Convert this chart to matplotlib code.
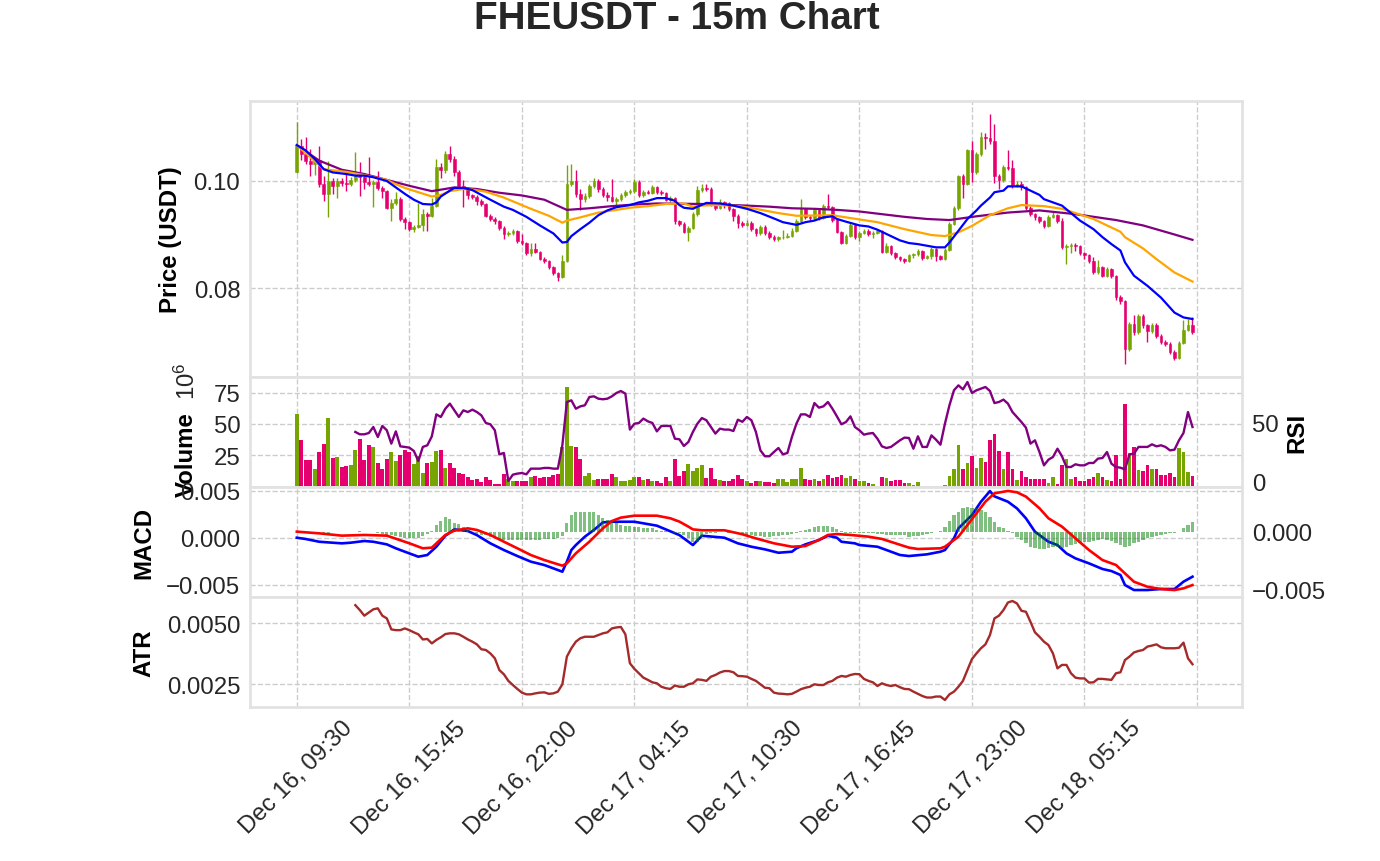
import matplotlib
matplotlib.use("Agg")
import matplotlib.pyplot as plt
import numpy as np

plt.rcParams['font.family'] = ['Liberation Sans', 'DejaVu Sans']

# ---- data (15m candles, index 0 = Dec 16 09:30) ----
first_open = 0.1017
close = [
    0.1066, 0.1050, 0.1038, 0.1032, 0.1040, 0.0995, 0.0975, 0.1000, 0.0990, 0.1000,
    0.0996, 0.0994, 0.1001, 0.1012, 0.1008, 0.0999, 0.0995, 0.0999, 0.0987, 0.0982,
    0.0950, 0.0958, 0.0966, 0.0929, 0.0923, 0.0910, 0.0914, 0.0918, 0.0938, 0.0935,
    0.0954, 0.1027, 0.1020, 0.1050, 0.1042, 0.1017, 0.0991, 0.0985, 0.0973, 0.0970,
    0.0963, 0.0957, 0.0935, 0.0929, 0.0926, 0.0913, 0.0900, 0.0903, 0.0906, 0.0888,
    0.0884, 0.0866, 0.0872, 0.0868, 0.0855, 0.0850, 0.0840, 0.0828, 0.0821, 0.0851,
    0.0994, 0.1000, 0.0976, 0.0966, 0.0972, 0.0991, 0.1000, 0.0985, 0.0973, 0.0970,
    0.0963, 0.0966, 0.0973, 0.0979, 0.0981, 0.0999, 0.0973, 0.0979, 0.0978, 0.0988,
    0.0979, 0.0977, 0.0965, 0.0968, 0.0925, 0.0920, 0.0905, 0.0913, 0.0938, 0.0984,
    0.0987, 0.0985, 0.0957, 0.0950, 0.0960, 0.0958, 0.0948, 0.0935, 0.0922, 0.0918,
    0.0922, 0.0910, 0.0902, 0.0914, 0.0903, 0.0896, 0.0892, 0.0895, 0.0896, 0.0898,
    0.0907, 0.0925, 0.0947, 0.0932, 0.0930, 0.0945, 0.0931, 0.0953, 0.0951, 0.0927,
    0.0905, 0.0885, 0.0897, 0.0918, 0.0895, 0.0903, 0.0907, 0.0901, 0.0903, 0.0907,
    0.0868, 0.0878, 0.0865, 0.0858, 0.0854, 0.0850, 0.0861, 0.0863, 0.0869, 0.0856,
    0.0859, 0.0873, 0.0859, 0.0855, 0.0871, 0.0920, 0.0949, 0.1010, 0.0995, 0.1057,
    0.1016, 0.1050, 0.1082, 0.1080, 0.1074, 0.1010, 0.1001, 0.1026, 0.1024, 0.0991,
    0.0994, 0.0988, 0.0950, 0.0938, 0.0932, 0.0925, 0.0916, 0.0932, 0.0937, 0.0926,
    0.0876, 0.0879, 0.0880, 0.0878, 0.0865, 0.0862, 0.0850, 0.0829, 0.0839, 0.0823,
    0.0836, 0.0823, 0.0783, 0.0776, 0.0686, 0.0732, 0.0717, 0.0748, 0.0730, 0.0720,
    0.0731, 0.0711, 0.0700, 0.0696, 0.0681, 0.0670, 0.0698, 0.0722, 0.0730, 0.0718,
]
high = [
    0.1111, 0.1078, 0.1082, 0.1060, 0.1044, 0.1066, 0.1010, 0.1038, 0.1006, 0.1005,
    0.1005, 0.1018, 0.1007, 0.1055, 0.1036, 0.1012, 0.1045, 0.1002, 0.1019, 0.0990,
    0.0984, 0.0966, 0.0979, 0.0971, 0.0933, 0.0926, 0.0917, 0.0958, 0.0948, 0.0942,
    0.0969, 0.1041, 0.1034, 0.1056, 0.1065, 0.1046, 0.1020, 0.1002, 0.0988, 0.0976,
    0.0973, 0.0966, 0.0959, 0.0938, 0.0932, 0.0928, 0.0915, 0.0906, 0.0910, 0.0908,
    0.0900, 0.0886, 0.0885, 0.0885, 0.0870, 0.0858, 0.0853, 0.0842, 0.0830, 0.0862,
    0.1030, 0.1032, 0.1021, 0.0985, 0.0978, 0.0995, 0.1006, 0.1003, 0.0988, 0.0979,
    0.1003, 0.0970, 0.0977, 0.0983, 0.0985, 0.1004, 0.1001, 0.0983, 0.0983, 0.0993,
    0.0991, 0.0984, 0.0979, 0.0972, 0.0970, 0.0927, 0.0923, 0.0916, 0.0942, 0.0990,
    0.0995, 0.0995, 0.0988, 0.0960, 0.0966, 0.0963, 0.0961, 0.0950, 0.0938, 0.0925,
    0.0928, 0.0925, 0.0913, 0.0918, 0.0917, 0.0906, 0.0899, 0.0898, 0.0908, 0.0903,
    0.0912, 0.0929, 0.0966, 0.0950, 0.0936, 0.0949, 0.0948, 0.0957, 0.0975, 0.0954,
    0.0929, 0.0907, 0.0900, 0.0922, 0.0920, 0.0907, 0.0910, 0.0911, 0.0906, 0.0910,
    0.0909, 0.0885, 0.0880, 0.0867, 0.0860, 0.0856, 0.0864, 0.0866, 0.0873, 0.0871,
    0.0862, 0.0876, 0.0875, 0.0861, 0.0874, 0.0924, 0.0953, 0.1012, 0.1013, 0.1060,
    0.1075, 0.1054, 0.1092, 0.1090, 0.1125, 0.1107, 0.1013, 0.1030, 0.1058, 0.1040,
    0.1000, 0.1000, 0.0990, 0.0953, 0.0941, 0.0935, 0.0928, 0.0936, 0.0944, 0.0939,
    0.0930, 0.0883, 0.0885, 0.0885, 0.0880, 0.0867, 0.0864, 0.0858, 0.0852, 0.0841,
    0.0840, 0.0838, 0.0825, 0.0786, 0.0778, 0.0736, 0.0750, 0.0752, 0.0751, 0.0733,
    0.0735, 0.0734, 0.0714, 0.0703, 0.0699, 0.0684, 0.0701, 0.0740, 0.0743, 0.0745,
]
low = [
    0.1015, 0.1040, 0.1032, 0.1010, 0.1012, 0.0988, 0.0963, 0.0932, 0.0976, 0.0968,
    0.0990, 0.0981, 0.0990, 0.0998, 0.0972, 0.0985, 0.0990, 0.0951, 0.0984, 0.0968,
    0.0948, 0.0926, 0.0955, 0.0926, 0.0911, 0.0907, 0.0904, 0.0912, 0.0907, 0.0907,
    0.0933, 0.0952, 0.1005, 0.1015, 0.1036, 0.1010, 0.0988, 0.0952, 0.0966, 0.0966,
    0.0955, 0.0954, 0.0932, 0.0925, 0.0920, 0.0909, 0.0892, 0.0897, 0.0899, 0.0884,
    0.0880, 0.0862, 0.0860, 0.0865, 0.0852, 0.0846, 0.0836, 0.0824, 0.0814, 0.0818,
    0.0848, 0.0990, 0.0970, 0.0945, 0.0960, 0.0968, 0.0986, 0.0980, 0.0970, 0.0962,
    0.0960, 0.0955, 0.0962, 0.0970, 0.0976, 0.0978, 0.0970, 0.0970, 0.0975, 0.0975,
    0.0976, 0.0974, 0.0962, 0.0960, 0.0920, 0.0915, 0.0902, 0.0888, 0.0910, 0.0935,
    0.0980, 0.0981, 0.0954, 0.0946, 0.0947, 0.0950, 0.0944, 0.0925, 0.0912, 0.0914,
    0.0915, 0.0906, 0.0898, 0.0899, 0.0899, 0.0892, 0.0887, 0.0888, 0.0892, 0.0893,
    0.0895, 0.0904, 0.0922, 0.0929, 0.0926, 0.0927, 0.0928, 0.0929, 0.0947, 0.0924,
    0.0902, 0.0882, 0.0883, 0.0895, 0.0891, 0.0888, 0.0900, 0.0898, 0.0893, 0.0900,
    0.0865, 0.0866, 0.0862, 0.0855, 0.0850, 0.0846, 0.0848, 0.0857, 0.0860, 0.0853,
    0.0854, 0.0855, 0.0850, 0.0852, 0.0853, 0.0869, 0.0917, 0.0945, 0.0969, 0.0992,
    0.0999, 0.1013, 0.1046, 0.1060, 0.1070, 0.0997, 0.0985, 0.0998, 0.1020, 0.0987,
    0.0988, 0.0984, 0.0946, 0.0935, 0.0928, 0.0921, 0.0912, 0.0914, 0.0930, 0.0922,
    0.0873, 0.0844, 0.0865, 0.0870, 0.0862, 0.0855, 0.0846, 0.0826, 0.0826, 0.0820,
    0.0820, 0.0819, 0.0777, 0.0770, 0.0658, 0.0683, 0.0712, 0.0714, 0.0726, 0.0700,
    0.0716, 0.0706, 0.0696, 0.0692, 0.0677, 0.0666, 0.0668, 0.0695, 0.0719, 0.0714,
]
# volume in units of 10^6
volume = [
    57.8, 37.5, 21.2, 21.2, 14.4, 27.4, 34.2, 54.6, 22.8, 23.9,
    16.0, 16.6, 17.1, 29.3, 38.3, 21.2, 33.4, 31.5, 18.7, 13.8,
    22.0, 27.4, 20.6, 25.2, 29.3, 27.4, 17.9, 24.2, 11.1, 18.7,
    19.8, 28.8, 29.3, 15.2, 18.7, 15.2, 11.1, 10.3, 7.9, 5.7,
    6.5, 3.5, 7.9, 5.7, 2.4, 2.4, 10.3, 6.2, 4.9, 4.3,
    4.3, 4.3, 7.6, 8.4, 7.1, 7.6, 7.6, 9.8, 10.3, 31.5,
    79.8, 32.8, 31.5, 22.0, 8.4, 11.1, 5.7, 6.5, 6.5, 6.2,
    10.3, 7.9, 4.3, 4.3, 5.7, 7.9, 7.9, 5.2, 6.2, 4.3,
    4.9, 3.0, 7.9, 4.9, 22.0, 9.0, 12.5, 17.9, 12.5, 14.7,
    17.1, 7.1, 15.2, 6.5, 5.7, 4.9, 4.9, 6.2, 9.8, 6.2,
    4.3, 3.0, 4.9, 4.9, 3.5, 3.5, 3.0, 6.5, 6.5, 3.5,
    6.5, 6.2, 15.2, 6.5, 5.7, 6.5, 4.3, 6.5, 9.8, 7.1,
    7.6, 9.2, 7.1, 9.0, 6.5, 4.9, 4.3, 3.0, 2.2, 0.8,
    7.9, 7.1, 4.9, 5.7, 5.7, 3.0, 3.0, 1.6, 3.8, 0.8,
    0.3, 0.8, 0.8, 0.3, 1.6, 9.0, 13.8, 33.4, 14.4, 18.7,
    24.7, 14.7, 23.3, 20.1, 36.9, 42.3, 28.8, 13.8, 28.0, 13.8,
    5.7, 12.5, 7.9, 6.5, 6.5, 6.5, 6.5, 3.0, 7.9, 2.4,
    17.1, 22.0, 6.5, 7.6, 4.3, 4.3, 6.2, 7.9, 11.1, 7.9,
    5.7, 4.9, 25.2, 6.5, 66.0, 26.9, 31.5, 13.0, 12.5, 17.1,
    14.4, 13.8, 9.2, 9.8, 11.1, 7.9, 30.9, 28.0, 11.7, 9.0,
]

# moving averages (read at sample candles)
ema_fast_idx = [0, 2, 4, 6, 8, 11, 13, 15, 17, 20, 22, 24, 26, 28, 30, 31, 32, 34, 35, 37,
                39, 41, 43, 46, 48, 51, 54, 57, 59, 60, 61, 63, 65, 67, 69, 71, 74, 76, 78,
                80, 82, 84, 85, 86, 88, 89, 91, 94, 97, 100, 103, 106, 108, 111, 113, 115,
                117, 119, 120, 122, 125, 127, 129, 131, 134, 136, 138, 140, 142, 144, 145,
                147, 149, 151, 152, 154, 155, 157, 158, 160, 161, 163, 165, 166, 168, 170,
                172, 174, 177, 179, 181, 183, 184, 186, 189, 192, 195, 197, 199]
ema_fast = [0.1067, 0.1057, 0.1041, 0.1022, 0.1016, 0.1013, 0.1010, 0.1010, 0.1007, 0.1000,
            0.0988, 0.0976, 0.0965, 0.0957, 0.0956, 0.0960, 0.0971, 0.0982, 0.0987, 0.0987,
            0.0983, 0.0974, 0.0965, 0.0952, 0.0946, 0.0933, 0.0917, 0.0902, 0.0885, 0.0886,
            0.0897, 0.0910, 0.0922, 0.0936, 0.0945, 0.0951, 0.0955, 0.0960, 0.0963, 0.0968,
            0.0968, 0.0963, 0.0955, 0.0950, 0.0948, 0.0952, 0.0959, 0.0958, 0.0954, 0.0948,
            0.0940, 0.0930, 0.0923, 0.0918, 0.0923, 0.0926, 0.0932, 0.0934, 0.0929, 0.0924,
            0.0917, 0.0915, 0.0909, 0.0901, 0.0889, 0.0884, 0.0882, 0.0879, 0.0876, 0.0876,
            0.0885, 0.0907, 0.0929, 0.0945, 0.0954, 0.0969, 0.0979, 0.0982, 0.0990, 0.0990,
            0.0990, 0.0982, 0.0974, 0.0966, 0.0960, 0.0954, 0.0940, 0.0926, 0.0910, 0.0895,
            0.0882, 0.0870, 0.0848, 0.0823, 0.0804, 0.0782, 0.0754, 0.0745, 0.0742]
ema_mid_idx = [0, 6, 11, 15, 20, 22, 24, 27, 30, 32, 34, 37, 39, 42, 46, 48, 52, 56, 59, 60,
               63, 67, 71, 74, 78, 82, 86, 88, 90, 93, 97, 100, 107, 111, 119, 122, 129, 135,
               141, 144, 147, 150, 152, 154, 158, 161, 166, 170, 173, 177, 180, 183, 184,
               188, 191, 195, 199]
ema_mid = [0.1067, 0.1022, 0.1017, 0.1011, 0.1002, 0.0994, 0.0987, 0.0979, 0.0971, 0.0974,
           0.0981, 0.0985, 0.0984, 0.0980, 0.0969, 0.0962, 0.0948, 0.0935, 0.0922, 0.0926,
           0.0932, 0.0941, 0.0946, 0.0950, 0.0953, 0.0957, 0.0958, 0.0952, 0.0954, 0.0955,
           0.0954, 0.0951, 0.0940, 0.0935, 0.0936, 0.0932, 0.0923, 0.0910, 0.0899, 0.0897,
           0.0904, 0.0916, 0.0926, 0.0936, 0.0949, 0.0955, 0.0953, 0.0948, 0.0940, 0.0929,
           0.0917, 0.0905, 0.0895, 0.0874, 0.0854, 0.0829, 0.0812]
ema_slow_idx = [0, 5, 10, 15, 20, 25, 30, 35, 40, 45, 50, 55, 60, 65, 70, 75, 80, 90, 100, 105,
                110, 115, 120, 125, 130, 135, 140, 145, 151, 158, 165, 173, 182, 188,
                195, 199]
ema_slow = [0.1067, 0.1038, 0.1021, 0.1013, 0.1002, 0.0991, 0.0981, 0.0988, 0.0985, 0.0978,
            0.0973, 0.0965, 0.0946, 0.0949, 0.0953, 0.0956, 0.0958, 0.0957, 0.0954, 0.0952,
            0.0949, 0.0948, 0.0946, 0.0943, 0.0938, 0.0933, 0.0929, 0.0927, 0.0934, 0.0941,
            0.0945, 0.0938, 0.0927, 0.0917, 0.0900, 0.0890]

rsi_start = 13
rsi = [
    42.4, 40.4, 40.4, 41.5, 46.6, 38.1, 47.5,
    43.8, 32.5, 42.9, 30.2, 29.7, 29.1, 26.3, 17.8, 29.7, 31.1,
    38.7, 57.3, 55.1, 62.1, 66.4, 60.7, 55.1, 60.7, 59.3, 61.3,
    59.3, 56.5, 50.0, 48.9, 43.8, 23.4, 24.6, 0.8, 6.2, 7.1,
    7.6, 6.5, 11.3, 11.3, 11.3, 11.9, 11.9, 11.3, 11.3, 31.1,
    67.8, 69.2, 62.1, 64.1, 65.0, 72.0, 72.6, 70.6, 70.1, 70.6,
    72.6, 75.4, 77.1, 74.9, 44.4, 49.4, 50.0, 53.7, 51.4, 50.0,
    42.9, 47.5, 47.5, 47.5, 36.7, 36.2, 30.5, 33.9, 42.4, 49.4,
    54.2, 52.3, 46.6, 41.0, 45.2, 44.4, 44.4, 43.2, 52.8, 51.0,
    55.1, 52.3, 42.4, 26.8, 21.8, 21.8, 25.4, 28.8, 23.4, 24.6,
    38.1, 49.4, 57.3, 57.3, 55.1, 66.9, 63.0, 64.1, 67.8, 62.1,
    55.6, 48.9, 50.8, 55.6, 46.6, 43.8, 40.1, 41.0, 41.5, 36.7,
    30.2, 28.8, 29.7, 32.5, 35.3, 37.6, 37.3, 28.2, 38.7, 29.7,
    29.7, 39.5, 35.9, 31.6, 49.4, 65.0, 77.7, 81.9, 78.5, 84.7,
    75.4, 77.7, 79.1, 80.5, 77.1, 66.9, 67.8, 69.8, 66.4, 59.3,
    55.1, 50.8, 46.0, 32.5, 35.3, 25.4, 14.1, 18.9, 21.2, 28.2,
    21.8, 12.7, 12.7, 15.0, 14.1, 14.1, 16.1, 16.1, 19.8, 20.3,
    25.4, 15.5, 12.7, 12.1, 10.7, 23.4, 24.0, 29.7, 29.7, 29.7,
    31.9, 30.2, 31.1, 29.7, 26.8, 27.4, 35.3, 41.5, 59.3, 46.6,
]

# MACD (left axis) and signal / histogram (right axis), in units of 1e-3
macd_idx = [0, 2, 5, 7, 10, 12, 15, 17, 20, 22, 25, 27, 29, 31, 33, 35, 38, 40, 43, 46,
            49, 52, 55, 58, 59, 60, 61, 62, 64, 66, 68, 70, 75, 80, 85, 88, 90, 95, 98,
            101, 104, 107, 110, 111, 113, 116, 118, 120, 121, 124, 125, 129, 131, 134, 136,
            140, 143, 144, 146, 147, 150, 152, 154, 155, 158, 160, 162, 164, 167, 169, 171,
            173, 176, 179, 181, 183, 184, 186, 189, 192, 195, 197, 199]
macd = [0.0, -0.14, -0.43, -0.50, -0.60, -0.53, -0.35, -0.43, -0.71, -1.13, -1.67, -2.02,
        -1.84, -0.96, 0.21, 0.89, 0.71, 0.28, -0.60, -1.31, -1.95, -2.55, -2.91, -3.44,
        -3.62, -2.55, -1.31, -0.78, 0.11, 0.82, 1.63, 1.70, 1.70, 1.28, 0.28, -0.78, 0.21,
        0.0, -0.60, -0.96, -1.24, -1.60, -1.49, -1.13, -0.71, -0.25, 0.21, 0.0, -0.43,
        -0.60, -0.78, -0.96, -1.31, -1.84, -1.95, -1.77, -1.49, -1.31, -0.07, 1.00, 2.41,
        3.83, 4.96, 4.40, 3.83, 3.12, 2.06, 0.64, -0.43, -0.78, -1.67, -2.20, -2.73,
        -3.33, -3.55, -3.97, -5.04, -5.57, -5.57, -5.46, -5.46, -4.68, -4.15]
signal_idx = [0, 5, 10, 15, 20, 25, 28, 30, 33, 35, 38, 40, 43, 46, 49, 52, 55, 58, 59, 60,
              62, 65, 68, 70, 72, 75, 80, 83, 85, 87, 88, 90, 95, 99, 102, 106, 110, 113,
              116, 118, 120, 123, 127, 130, 133, 136, 138, 143, 144, 147, 149, 151, 153,
              155, 158, 160, 162, 165, 167, 170, 173, 176, 179, 182, 184, 186, 189, 192,
              195, 197, 199]
signal = [0.03, -0.12, -0.32, -0.26, -0.32, -0.99, -1.43, -1.37, -0.26, 0.12, 0.32, 0.18,
          -0.26, -0.85, -1.43, -2.02, -2.46, -2.83, -2.95, -2.75, -1.87, -0.85, 0.32,
          0.96, 1.26, 1.43, 1.43, 1.20, 0.91, 0.47, 0.23, 0.15, 0.15, -0.20, -0.56, -0.99,
          -1.29, -1.23, -0.70, -0.26, -0.18, -0.26, -0.41, -0.61, -0.99, -1.37, -1.49,
          -1.43, -1.29, -0.41, 0.61, 1.64, 2.66, 3.39, 3.60, 3.48, 3.10, 2.08, 1.20, 0.47,
          -0.56, -1.58, -2.46, -2.89, -3.63, -4.36, -4.80, -5.00, -5.09, -4.94, -4.65]
hist = [
    0.00, 0.02, 0.03, 0.02, 0.01, -0.03, -0.05, -0.05, -0.04, -0.03,
    -0.02, -0.03, 0.01, 0.03, 0.05, 0.04, 0.02, -0.02, -0.10, -0.18,
    -0.26, -0.30, -0.35, -0.45, -0.52, -0.56, -0.56, -0.50, -0.35, -0.20,
    0.10, 0.61, 0.96, 1.29, 1.15, 0.82, 0.67, 0.47, 0.18, 0.03,
    -0.15, -0.25, -0.26, -0.40, -0.50, -0.64, -0.67, -0.70, -0.70, -0.70,
    -0.70, -0.68, -0.68, -0.68, -0.66, -0.64, -0.62, -0.58, -0.50, -0.32,
    0.76, 1.49, 1.78, 1.78, 1.78, 1.78, 1.78, 1.49, 1.20, 1.05,
    0.96, 0.80, 0.61, 0.55, 0.50, 0.47, 0.42, 0.38, 0.38, 0.32,
    0.18, 0.12, 0.08, 0.03, -0.05, -0.12, -0.26, -0.56, -0.85, -0.90,
    -0.41, -0.20, -0.10, -0.05, -0.02, 0.02, -0.05, -0.12, -0.18, -0.26,
    -0.26, -0.30, -0.35, -0.38, -0.41, -0.41, -0.38, -0.35, -0.30, -0.28,
    -0.20, -0.10, 0.10, 0.18, 0.30, 0.40, 0.50, 0.55, 0.55, 0.47,
    0.30, 0.10, -0.05, -0.10, -0.12, -0.12, -0.12, -0.12, -0.12, -0.15,
    -0.18, -0.26, -0.26, -0.26, -0.26, -0.30, -0.41, -0.35, -0.32, -0.22,
    -0.18, -0.05, 0.03, 0.09, 0.47, 0.96, 1.49, 1.78, 2.08, 2.22,
    2.08, 2.08, 1.93, 1.78, 1.35, 0.91, 0.47, 0.32, 0.12, -0.12,
    -0.41, -0.70, -0.99, -1.29, -1.43, -1.52, -1.49, -1.43, -1.29, -1.29,
    -1.37, -1.29, -1.14, -1.08, -0.99, -0.91, -0.85, -0.79, -0.70, -0.64,
    -0.70, -0.79, -0.99, -1.14, -1.29, -1.23, -0.99, -0.85, -0.70, -0.56,
    -0.47, -0.32, -0.26, -0.20, -0.12, -0.12, -0.03, 0.32, 0.61, 0.85,
]

atr_start = 13
atr = [  # units of 1e-3
    5.73, 5.53, 5.30, 5.43, 5.56, 5.60, 5.30,
    5.19, 4.74, 4.71, 4.71, 4.78, 4.71, 4.62, 4.54, 4.33, 4.35,
    4.17, 4.31, 4.42, 4.55, 4.58, 4.58, 4.54, 4.44, 4.33, 4.24,
    4.13, 3.93, 3.90, 3.76, 3.56, 3.08, 2.91, 2.64, 2.47, 2.31,
    2.16, 2.09, 2.09, 2.13, 2.16, 2.17, 2.11, 2.13, 2.20, 2.50,
    3.63, 3.97, 4.24, 4.38, 4.44, 4.44, 4.44, 4.51, 4.58, 4.62,
    4.78, 4.82, 4.84, 4.54, 3.36, 3.13, 2.95, 2.77, 2.68, 2.58,
    2.54, 2.40, 2.34, 2.31, 2.45, 2.40, 2.40, 2.50, 2.54, 2.70,
    2.68, 2.64, 2.81, 2.88, 2.98, 3.04, 3.04, 2.99, 2.84, 2.83,
    2.81, 2.72, 2.64, 2.50, 2.36, 2.34, 2.16, 2.12, 2.11, 2.09,
    2.11, 2.20, 2.30, 2.36, 2.40, 2.50, 2.47, 2.47, 2.58, 2.64,
    2.77, 2.84, 2.81, 2.88, 2.92, 2.91, 2.72, 2.64, 2.58, 2.43,
    2.54, 2.47, 2.43, 2.47, 2.38, 2.31, 2.30, 2.20, 2.11, 2.02,
    1.96, 1.96, 2.00, 2.00, 1.86, 2.09, 2.20, 2.40, 2.64, 3.08,
    3.53, 3.76, 3.97, 4.13, 4.51, 5.19, 5.30, 5.53, 5.84, 5.90,
    5.80, 5.50, 5.46, 5.05, 4.62, 4.44, 4.24, 4.10, 3.76, 3.15,
    3.29, 3.29, 2.95, 2.77, 2.74, 2.74, 2.57, 2.58, 2.72, 2.72,
    2.70, 2.68, 2.95, 2.99, 3.49, 3.63, 3.80, 3.86, 3.90, 4.04,
    4.08, 4.13, 4.01, 3.97, 3.97, 3.97, 3.99, 4.20, 3.56, 3.32,
]

tick_labels = ['Dec 16, 09:30', 'Dec 16, 15:45', 'Dec 16, 22:00', 'Dec 17, 04:15',
               'Dec 17, 10:30', 'Dec 17, 16:45', 'Dec 17, 23:00', 'Dec 18, 05:15', '']

# ---- styling ----
up_col = '#76a400'
down_col = '#e6006f'
grid_col = '#cccccc'
spine_col = '#e2e2e2'
fs = 17.3

close = np.array(close)
opens = np.concatenate([[first_open], close[:-1]])
n = len(close)
x = np.arange(n)
colors = np.where(close >= opens, up_col, down_col)

fig = plt.figure(figsize=(13.8, 8.62), dpi=100)
W, H = 1380, 862


def panel(top, bottom):
    return fig.add_axes([250 / W, 1 - bottom / H, 992 / W, (bottom - top) / H])


def style(ax):
    ax.set_facecolor('white')
    for s in ax.spines.values():
        s.set_color(spine_col)
        s.set_linewidth(2.0)
    ax.grid(True, color=grid_col, linestyle='--', linewidth=1.0)
    ax.set_axisbelow(True)
    ax.tick_params(length=0, labelsize=fs, pad=7, colors='#262626')
    ax.set_xlim(-10.4, 210)
    ax.set_xticks(np.arange(0, 201, 25))


ax_p = panel(102, 377.5)
ax_v = panel(377.5, 487.7)
ax_m = panel(487.7, 597.8)
ax_a = panel(597.8, 708)
for ax in (ax_p, ax_v, ax_m, ax_a):
    style(ax)
for ax in (ax_p, ax_v, ax_m):
    ax.tick_params(labelbottom=False)

# price panel
ax_p.vlines(x, low, high, colors=colors, linewidth=1.0, zorder=2)
ax_p.bar(x, np.abs(close - opens), bottom=np.minimum(close, opens), width=0.6,
         color=colors, edgecolor=colors, linewidth=0.4, zorder=3)
ax_p.plot(ema_slow_idx, ema_slow, color='purple', linewidth=1.6, zorder=4)
ax_p.plot(ema_mid_idx, ema_mid, color='orange', linewidth=1.6, zorder=4)
ax_p.plot(ema_fast_idx, ema_fast, color='blue', linewidth=1.6, zorder=5)
ax_p.set_ylim(0.06346, 0.11495)
ax_p.set_yticks([0.08, 0.10])
ax_p.set_yticklabels(['0.08', '0.10'])
ax_p.set_ylabel('Price (USDT)', fontsize=fs, fontweight='bold')
ax_p.yaxis.set_label_coords(-0.0685, 0.5)

# volume + RSI
ax_v.bar(x, volume, width=0.85, color=colors, zorder=2)
ax_v.set_ylim(0.09, 87.8)
ax_v.set_yticks([25, 50, 75])
ax_v.set_ylabel('Volume', fontsize=fs, fontweight='bold')
ax_v.yaxis.set_label_coords(-0.0524, 0.297)
fig.text(187 / W, 1 - 381 / H, r'$\mathdefault{10^{6}}$', rotation=90,
         ha='center', va='center', fontsize=fs, color='#262626')

ax_r = ax_v.twinx()
ax_r.plot(np.arange(rsi_start, rsi_start + len(rsi)), rsi, color='purple', linewidth=1.7)
ax_r.set_ylim(-4.0, 89.4)
ax_r.set_yticks([0, 50])
ax_r.grid(False)
ax_r.tick_params(length=0, labelsize=fs, pad=7, colors='#262626')
for s in ax_r.spines.values():
    s.set_visible(False)
ax_r.set_ylabel('RSI', fontsize=fs, fontweight='bold')
ax_r.yaxis.set_label_coords(1.0433, 0.5)

# MACD
ax_m.plot(macd_idx, np.array(macd) * 1e-3, color='blue', linewidth=1.9, zorder=3)
ax_m.set_ylim(-0.00629, 0.00543)
ax_m.set_yticks([-0.005, 0.0, 0.005])
ax_m.set_yticklabels(['\u22120.005', '0.000', '0.005'])
ax_m.set_ylabel('MACD', fontsize=fs, fontweight='bold')
ax_m.yaxis.set_label_coords(-0.0958, 0.5)

ax_m2 = ax_m.twinx()
ax_m2.bar(x, np.array(hist) * 1e-3, width=0.7, color='green', alpha=0.5)
ax_m2.plot(signal_idx, np.array(signal) * 1e-3, color='red', linewidth=1.9)
ax_m2.set_ylim(-0.00568, 0.00397)
ax_m2.set_yticks([-0.005, 0.0])
ax_m2.set_yticklabels(['\u22120.005', '0.000'])
ax_m2.grid(False)
ax_m2.tick_params(length=0, labelsize=fs, pad=7, colors='#262626')
for s in ax_m2.spines.values():
    s.set_visible(False)

# ATR
ax_a.plot(np.arange(atr_start, atr_start + len(atr)), np.array(atr) * 1e-3,
          color='brown', linewidth=1.7)
ax_a.set_ylim(0.001573, 0.006071)
ax_a.set_yticks([0.0025, 0.005])
ax_a.set_yticklabels(['0.0025', '0.0050'])
ax_a.set_ylabel('ATR', fontsize=fs, fontweight='bold')
ax_a.yaxis.set_label_coords(-0.0958, 0.5)
ax_a.set_xticklabels(tick_labels, rotation=45)

fig.text(677 / W, 1 - 29 / H, 'FHEUSDT - 15m Chart', fontsize=27.8, fontweight='bold',
         ha='center', va='baseline', color='#262626')

fig.savefig('out.png', dpi=100, facecolor='white')
